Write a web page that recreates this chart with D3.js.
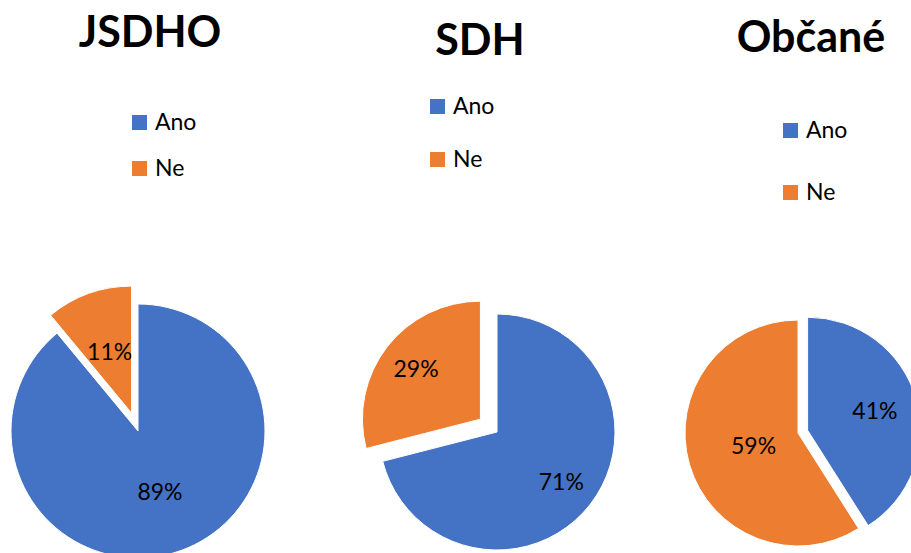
<!DOCTYPE html>
<html>
<head>
<meta charset="utf-8">
<script src="https://cdn.jsdelivr.net/npm/d3@7"></script>
<style>
  body { margin: 0; background: #fff; }
  svg { display: block; font-family: Lato, "Open Sans", sans-serif; }
</style>
</head>
<body>
<div id="chart"></div>
<script>
// data
const chartTitles = ["JSDHO", "SDH", "Občané"];
const categories = ["Ano", "Ne"];
const anoValues = [89, 71, 41];
const neValues = [11, 29, 59];

const colors = d3.scaleOrdinal().domain(categories).range(["#4472C4", "#ED7D31"]);

// layout of each little chart (pixels)
const layout = [
  { cx: 138, cy: 431, r: 127, explode: 1, offset: 19, labelK: [0.51, 0.51],
    title: [150, 47], legend: [132, 115, 46] },
  { cx: 497, cy: 432, r: 118, explode: 1, offset: 21, labelK: [0.69, 0.69],
    title: [480, 55], legend: [430, 99, 53] },
  { cx: 798, cy: 433, r: 113, explode: 0, offset: 10, labelK: [0.62, 0.41],
    title: [811, 52], legend: [783, 123, 62] }
];

const W = 911, H = 553;
const svg = d3.select("#chart").append("svg")
  .attr("width", W)
  .attr("height", H);

const pie = d3.pie().sort(null).value(d => d.value);

chartTitles.forEach((title, i) => {
  const L = layout[i];
  const data = [
    { cat: categories[0], value: anoValues[i] },
    { cat: categories[1], value: neValues[i] }
  ];
  const arcs = pie(data);
  const arc = d3.arc().innerRadius(0).outerRadius(L.r);

  const g = svg.append("g").attr("transform", `translate(${L.cx},${L.cy})`);

  arcs.forEach((a, j) => {
    const mid = (a.startAngle + a.endAngle) / 2;
    const off = j === L.explode ? L.offset : 0;
    const dx = off * Math.sin(mid), dy = -off * Math.cos(mid);
    const sg = g.append("g").attr("transform", `translate(${dx},${dy})`);

    sg.append("path")
      .attr("d", arc(a))
      .attr("fill", colors(a.data.cat))
      .attr("stroke", "#fff")
      .attr("stroke-width", 1);

    const lr = L.r * L.labelK[j];
    sg.append("text")
      .attr("x", lr * Math.sin(mid))
      .attr("y", -lr * Math.cos(mid))
      .attr("dy", "0.35em")
      .attr("text-anchor", "middle")
      .style("font-size", "23px")
      .style("fill", "#000")
      .text(a.data.value + "%");
  });

  // title
  svg.append("text")
    .attr("x", L.title[0])
    .attr("y", L.title[1])
    .attr("text-anchor", "middle")
    .style("font-size", "43px")
    .style("font-weight", "bold")
    .style("fill", "#000")
    .text(title);

  // legend
  const lg = svg.append("g").attr("transform", `translate(${L.legend[0]},${L.legend[1]})`);
  categories.forEach((c, k) => {
    lg.append("rect")
      .attr("x", 0)
      .attr("y", k * L.legend[2])
      .attr("width", 15)
      .attr("height", 15)
      .attr("fill", colors(c));
    lg.append("text")
      .attr("x", 23)
      .attr("y", k * L.legend[2] + 15)
      .style("font-size", "23px")
      .style("fill", "#000")
      .text(c);
  });
});
</script>
</body>
</html>
